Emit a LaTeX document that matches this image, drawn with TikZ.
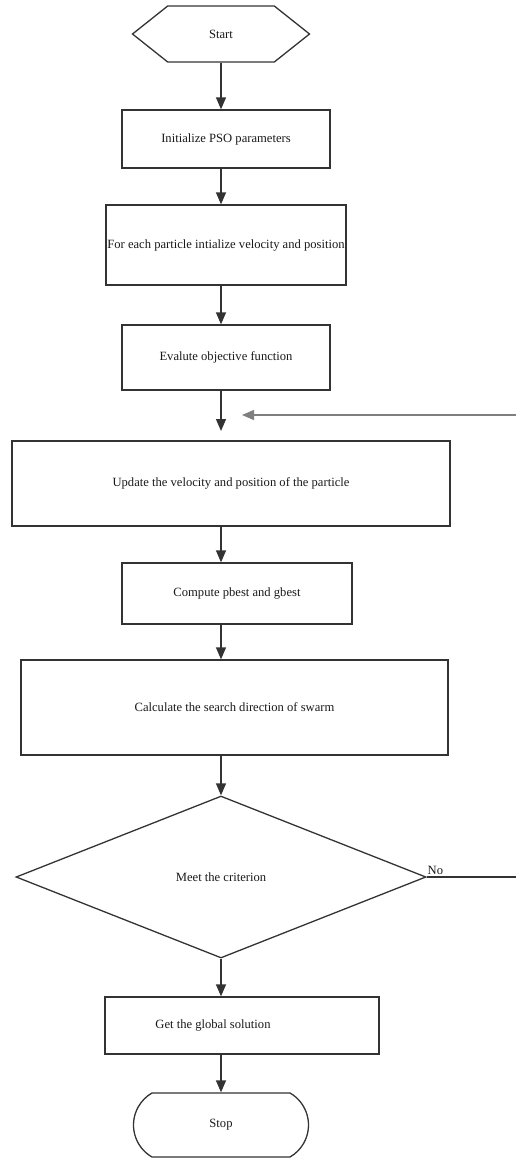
\documentclass[tikz,border=0pt]{standalone}
\usepackage{fontspec}
\setmainfont{Liberation Serif}
\usetikzlibrary{arrows.meta,shapes.geometric,shapes.symbols,shapes.misc}
\definecolor{edgegray}{HTML}{333333}
\definecolor{loopgray}{HTML}{7F7F7F}
\tikzset{
  box/.style={rectangle, draw=edgegray, line width=1.3pt, inner sep=0pt, text=black!90, font=\fontsize{12.6}{15}\selectfont},
  arr/.style={draw=edgegray, line width=1.3pt, -{Triangle[width=10pt,length=12pt]}},
  back/.style={draw=loopgray, line width=1.3pt, -{Triangle[width=10pt,length=12pt]}},
}
\begin{document}
\begin{tikzpicture}[x=1pt,y=-1pt]
\useasboundingbox (0,0) rectangle (515,1160);
\node[box, signal, signal to=west and east, signal pointer angle=77, minimum width=177pt, minimum height=56pt] (start) at (221,34){Start};
\node[box, minimum width=208pt, minimum height=58pt] (init) at (226,139){Initialize PSO parameters};
\node[box, minimum width=240pt, minimum height=80pt] (each) at (226,245){For each particle intialize velocity and position};
\node[box, minimum width=208pt, minimum height=65pt] (eval) at (226,357.5){Evalute objective function};
\node[box, minimum width=438pt, minimum height=85pt] (update) at (231,483.5){Update the velocity and position of the particle};
\node[box, minimum width=230pt, minimum height=61pt] (best) at (237,593.5){Compute pbest and gbest};
\node[box, minimum width=427pt, minimum height=95pt] (swarm) at (234.5,707.5){Calculate the search direction of swarm};
\node[box, diamond, aspect=2.53, minimum width=410pt, minimum height=162pt] (meet) at (221,877){Meet the criterion};
\node[box, minimum width=274pt, minimum height=57pt] (global) at (242,1025.5){};
\node[box, draw=none] (globaltxt) at (213,1025.5){Get the global solution};
\node[box, rounded rectangle, rounded rectangle arc length=120, minimum width=175pt, minimum height=64pt] (stop) at (221,1125){Stop};
\coordinate (evaltip) at (221,431);
\coordinate (looptip) at (242,415);
\coordinate (noright) at (517,877);
\coordinate (loopright) at (517,415);
\node[box, draw=none, anchor=south west] (no) at (427,875){No};
\draw[arr](start.south) -- (start.south |- init.north);
\draw[arr](start.south |- init.south) -- (start.south |- each.north);
\draw[arr](start.south |- each.south) -- (start.south |- eval.north);
\draw[arr](start.south |- eval.south) -- (evaltip);
\draw[arr](start.south |- update.south) -- (start.south |- best.north);
\draw[arr](start.south |- best.south) -- (start.south |- swarm.north);
\draw[arr](start.south |- swarm.south) -- (meet.north);
\draw[arr](meet.south) -- (meet.south |- global.north);
\draw[arr](meet.south |- global.south) -- (stop.north);
\draw[edgegray, line width=1.3pt](meet.east) -- (noright);
\draw[back](loopright) -- (looptip);
\draw[loopgray, line width=1.3pt](noright) -- (loopright);
\end{tikzpicture}
\end{document}
